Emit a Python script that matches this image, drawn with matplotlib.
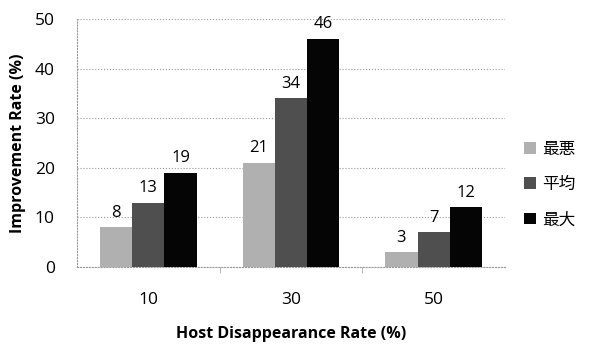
import numpy as np
import matplotlib.pyplot as plt

plt.rcParams['font.family'] = ['Open Sans', 'Noto Sans CJK JP', 'DejaVu Sans']

categories = ['10', '30', '50']
series = ['最悪', '平均', '最大']
worst = [8, 21, 3]
average = [13, 34, 7]
best = [19, 46, 12]
colors = ['#b0b0b0', '#4f4f4f', '#050505']

fig = plt.figure(figsize=(5.94, 3.46), dpi=100)
ax = fig.add_axes([77/594, 1 - 267/346, 428/594, 248/346])

x = np.arange(len(categories))
w = 0.226
for i, (vals, c, name) in enumerate(zip([worst, average, best], colors, series)):
    pos = x + (i - 1) * w
    ax.bar(pos, vals, w, color=c, label=name, zorder=3)
    for p, v in zip(pos, vals):
        ax.text(p, v + 1.3, str(v), ha='center', va='bottom', fontsize=12, zorder=4)

ax.set_xlim(-0.5, 2.5)
ax.set_ylim(0, 50)
ax.set_yticks(range(0, 51, 10))
ax.set_xticks(x)
ax.set_xticklabels(categories)
ax.set_xticks([0.5, 1.5], minor=True)
ax.tick_params(axis='x', which='major', length=0, pad=18, labelsize=12.5)
ax.tick_params(axis='x', which='minor', length=4, color='#aaaaaa')
ax.tick_params(axis='y', length=0, pad=16, labelsize=12.5)
ax.grid(axis='y', linestyle=':', color='#999999', linewidth=0.8, zorder=0)
for s in ['top', 'right']:
    ax.spines[s].set_visible(False)
for s in ['left', 'bottom']:
    ax.spines[s].set_linestyle(':')
    ax.spines[s].set_color('#999999')

ax.set_ylabel('Improvement Rate (%)', fontweight='bold', fontsize=11.5, labelpad=6)
ax.set_xlabel('Host Disappearance Rate (%)', fontweight='bold', fontsize=11.5, labelpad=13)

ax.legend(loc='center left', bbox_to_anchor=(1.01, 0.33), frameon=False,
          fontsize=12, handlelength=0.7, handleheight=0.7, handletextpad=0.4,
          labelspacing=1.15)

fig.savefig('out.png', dpi=100)
